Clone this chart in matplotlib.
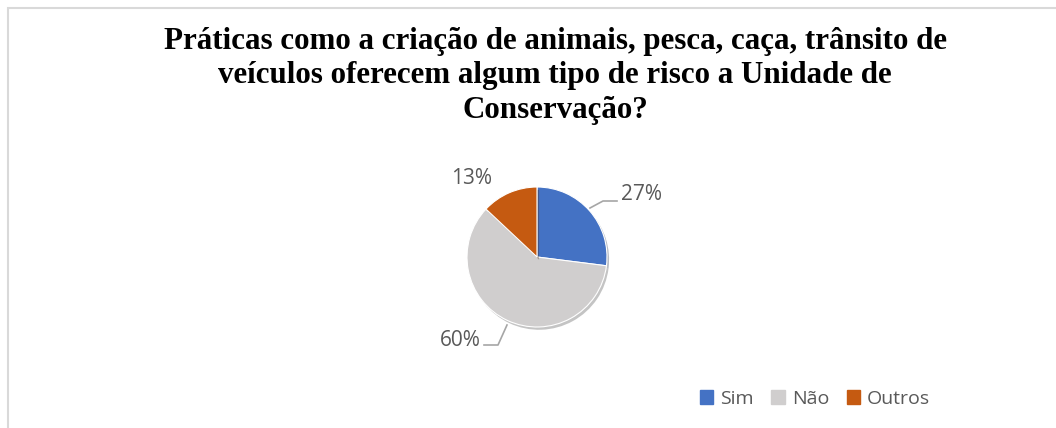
import matplotlib.pyplot as plt
import matplotlib.patheffects as pe

labels = ['Sim', 'Não', 'Outros']
values = [27, 60, 13]
colors = ['#4472C4', '#D0CECE', '#C55A11']
pct_text = ['27%', '60%', '13%']

title = ('Práticas como a criação de animais, pesca, caça, trânsito de\n'
         'veículos oferecem algum tipo de risco a Unidade de\n'
         'Conservação?')

W, H = 1056, 428
fig = plt.figure(figsize=(W / 100, H / 100), dpi=100)

# frame around the chart area (cropped at right/bottom)
frame = plt.Rectangle((7.5 / W, -0.1), 1.2, (H - 8.5) / H + 0.1, transform=fig.transFigure,
                      fill=False, edgecolor='#D9D9D9', linewidth=1.5)
fig.patches.append(frame)

fig.text(555 / W, 1 - 118 / H, title, ha='center', va='baseline', fontsize=22.3,
         fontweight='bold', family='Liberation Serif', linespacing=1.25, multialignment='center')

# pie: center (537,257), radius 70 px
cx, cy, r = 537, 257, 70
ax = fig.add_axes([(cx - r) / W, (H - cy - r) / H, 2 * r / W, 2 * r / H])
wedges, _ = ax.pie(values, colors=colors, startangle=90, counterclock=False,
                   wedgeprops=dict(linewidth=0.8, edgecolor='white'))
for w in wedges:
    w.set_path_effects([pe.SimplePatchShadow(offset=(1.5, -2), alpha=0.3), pe.Normal()])
ax.set_xlim(-1, 1)
ax.set_ylim(-1, 1)
ax.set_aspect('equal')
ax.axis('off')


def px(x, y):
    return ((x - cx) / r, (cy - y) / r)


txt = dict(fontsize=15, color='#595959', family='Open Sans', clip_on=False)
lc = '#A6A6A6'

# 27%
ax.plot(*zip(px(590, 208), px(603, 201), px(617, 201)), color=lc, lw=1.2, clip_on=False)
ax.text(*px(641, 195), pct_text[0], ha='center', va='center', **txt)
# 60%
ax.plot(*zip(px(507, 325), px(498, 345), px(484, 345)), color=lc, lw=1.2, clip_on=False)
ax.text(*px(460, 340), pct_text[1], ha='center', va='center', **txt)
# 13%
ax.text(*px(472, 178), pct_text[2], ha='center', va='center', **txt)

handles = [plt.Rectangle((0, 0), 1, 1, color=c) for c in colors]
fig.legend(handles, labels, loc='center', bbox_to_anchor=(815 / W, 1 - 399 / H), ncol=3,
           frameon=False, handlelength=0.7, handleheight=0.7, handletextpad=0.35,
           columnspacing=0.9, prop=dict(family='Open Sans', size=14), labelcolor='#595959')

fig.savefig('out.png', dpi=100)
